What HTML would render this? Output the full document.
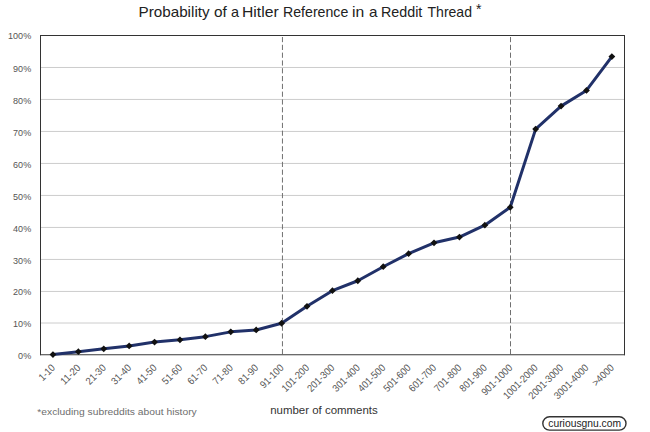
<!DOCTYPE html><html><head><meta charset="utf-8"><style>html,body{margin:0;padding:0;background:#fff;}svg{display:block;}text{font-family:"Liberation Sans",sans-serif;}</style></head><body>
<svg width="650" height="432" viewBox="0 0 650 432">
<rect x="0" y="0" width="650" height="432" fill="#fff"/>
<line x1="40.0" y1="323.00" x2="624.4" y2="323.00" stroke="#cccccc" stroke-width="1"/>
<line x1="40.0" y1="291.45" x2="624.4" y2="291.45" stroke="#cccccc" stroke-width="1"/>
<line x1="40.0" y1="259.45" x2="624.4" y2="259.45" stroke="#cccccc" stroke-width="1"/>
<line x1="40.0" y1="227.45" x2="624.4" y2="227.45" stroke="#cccccc" stroke-width="1"/>
<line x1="40.0" y1="195.45" x2="624.4" y2="195.45" stroke="#cccccc" stroke-width="1"/>
<line x1="40.0" y1="163.45" x2="624.4" y2="163.45" stroke="#cccccc" stroke-width="1"/>
<line x1="40.0" y1="131.45" x2="624.4" y2="131.45" stroke="#cccccc" stroke-width="1"/>
<line x1="40.0" y1="99.45" x2="624.4" y2="99.45" stroke="#cccccc" stroke-width="1"/>
<line x1="40.0" y1="67.47" x2="624.4" y2="67.47" stroke="#cccccc" stroke-width="1"/>
<line x1="282.45" y1="37.0" x2="282.45" y2="354.9" stroke="#707070" stroke-width="1" stroke-dasharray="5.2,2.6"/>
<line x1="510.50" y1="37.0" x2="510.50" y2="354.9" stroke="#707070" stroke-width="1" stroke-dasharray="5.2,2.6"/>
<line x1="40.5" y1="35.5" x2="624.5" y2="35.5" stroke="#333" stroke-width="1"/>
<line x1="40.5" y1="35" x2="40.5" y2="355.2" stroke="#333" stroke-width="1"/>
<line x1="624.5" y1="35" x2="624.5" y2="355.2" stroke="#333" stroke-width="1"/>
<line x1="40" y1="354.75" x2="625" y2="354.75" stroke="#3a3a3a" stroke-width="1.1"/>
<polyline points="52.94,354.53 78.35,351.66 103.75,348.78 129.16,345.91 154.56,342.08 179.97,339.84 205.38,336.65 230.78,331.86 256.19,329.94 281.59,323.24 307.00,306.32 332.41,290.67 357.81,280.77 383.22,266.72 408.62,253.63 434.03,242.78 459.44,237.03 484.84,225.21 510.25,207.33 535.65,129.10 561.06,106.12 586.47,90.47 611.87,56.62" fill="none" stroke="#213169" stroke-width="3" stroke-linejoin="round"/>
<path d="M52.94,351.13 L56.34,354.53 L52.94,357.93 L49.54,354.53 Z" fill="#111"/>
<path d="M78.35,348.26 L81.75,351.66 L78.35,355.06 L74.95,351.66 Z" fill="#111"/>
<path d="M103.75,345.38 L107.15,348.78 L103.75,352.18 L100.35,348.78 Z" fill="#111"/>
<path d="M129.16,342.51 L132.56,345.91 L129.16,349.31 L125.76,345.91 Z" fill="#111"/>
<path d="M154.56,338.68 L157.96,342.08 L154.56,345.48 L151.16,342.08 Z" fill="#111"/>
<path d="M179.97,336.44 L183.37,339.84 L179.97,343.24 L176.57,339.84 Z" fill="#111"/>
<path d="M205.38,333.25 L208.78,336.65 L205.38,340.05 L201.98,336.65 Z" fill="#111"/>
<path d="M230.78,328.46 L234.18,331.86 L230.78,335.26 L227.38,331.86 Z" fill="#111"/>
<path d="M256.19,326.54 L259.59,329.94 L256.19,333.34 L252.79,329.94 Z" fill="#111"/>
<path d="M281.59,319.84 L284.99,323.24 L281.59,326.64 L278.19,323.24 Z" fill="#111"/>
<path d="M307.00,302.92 L310.40,306.32 L307.00,309.72 L303.60,306.32 Z" fill="#111"/>
<path d="M332.41,287.27 L335.81,290.67 L332.41,294.07 L329.01,290.67 Z" fill="#111"/>
<path d="M357.81,277.37 L361.21,280.77 L357.81,284.17 L354.41,280.77 Z" fill="#111"/>
<path d="M383.22,263.32 L386.62,266.72 L383.22,270.12 L379.82,266.72 Z" fill="#111"/>
<path d="M408.62,250.23 L412.02,253.63 L408.62,257.03 L405.22,253.63 Z" fill="#111"/>
<path d="M434.03,239.38 L437.43,242.78 L434.03,246.18 L430.63,242.78 Z" fill="#111"/>
<path d="M459.44,233.63 L462.84,237.03 L459.44,240.43 L456.04,237.03 Z" fill="#111"/>
<path d="M484.84,221.81 L488.24,225.21 L484.84,228.61 L481.44,225.21 Z" fill="#111"/>
<path d="M510.25,203.93 L513.65,207.33 L510.25,210.73 L506.85,207.33 Z" fill="#111"/>
<path d="M535.65,125.70 L539.05,129.10 L535.65,132.50 L532.25,129.10 Z" fill="#111"/>
<path d="M561.06,102.72 L564.46,106.12 L561.06,109.52 L557.66,106.12 Z" fill="#111"/>
<path d="M586.47,87.07 L589.87,90.47 L586.47,93.87 L583.07,90.47 Z" fill="#111"/>
<path d="M611.87,53.22 L615.27,56.62 L611.87,60.02 L608.47,56.62 Z" fill="#111"/>
<text x="31.2" y="359.35" font-size="9.5" fill="#555" text-anchor="end" textLength="13.1" lengthAdjust="spacingAndGlyphs">0%</text>
<text x="31.2" y="327.42" font-size="9.5" fill="#555" text-anchor="end" textLength="18.1" lengthAdjust="spacingAndGlyphs">10%</text>
<text x="31.2" y="295.49" font-size="9.5" fill="#555" text-anchor="end" textLength="18.1" lengthAdjust="spacingAndGlyphs">20%</text>
<text x="31.2" y="263.56" font-size="9.5" fill="#555" text-anchor="end" textLength="18.1" lengthAdjust="spacingAndGlyphs">30%</text>
<text x="31.2" y="231.63" font-size="9.5" fill="#555" text-anchor="end" textLength="18.1" lengthAdjust="spacingAndGlyphs">40%</text>
<text x="31.2" y="199.70" font-size="9.5" fill="#555" text-anchor="end" textLength="18.1" lengthAdjust="spacingAndGlyphs">50%</text>
<text x="31.2" y="167.77" font-size="9.5" fill="#555" text-anchor="end" textLength="18.1" lengthAdjust="spacingAndGlyphs">60%</text>
<text x="31.2" y="135.84" font-size="9.5" fill="#555" text-anchor="end" textLength="18.1" lengthAdjust="spacingAndGlyphs">70%</text>
<text x="31.2" y="103.91" font-size="9.5" fill="#555" text-anchor="end" textLength="18.1" lengthAdjust="spacingAndGlyphs">80%</text>
<text x="31.2" y="71.98" font-size="9.5" fill="#555" text-anchor="end" textLength="18.1" lengthAdjust="spacingAndGlyphs">90%</text>
<text x="31.2" y="38.75" font-size="9.5" fill="#555" text-anchor="end" textLength="23.2" lengthAdjust="spacingAndGlyphs">100%</text>
<text transform="translate(55.74,368.4) rotate(-45)" font-size="10.2" fill="#555" text-anchor="end" textLength="18.53" lengthAdjust="spacingAndGlyphs">1-10</text>
<text transform="translate(81.15,368.4) rotate(-45)" font-size="10.2" fill="#555" text-anchor="end" textLength="23.68" lengthAdjust="spacingAndGlyphs">11-20</text>
<text transform="translate(106.55,368.4) rotate(-45)" font-size="10.2" fill="#555" text-anchor="end" textLength="23.68" lengthAdjust="spacingAndGlyphs">21-30</text>
<text transform="translate(131.96,368.4) rotate(-45)" font-size="10.2" fill="#555" text-anchor="end" textLength="23.68" lengthAdjust="spacingAndGlyphs">31-40</text>
<text transform="translate(157.36,368.4) rotate(-45)" font-size="10.2" fill="#555" text-anchor="end" textLength="23.68" lengthAdjust="spacingAndGlyphs">41-50</text>
<text transform="translate(182.77,368.4) rotate(-45)" font-size="10.2" fill="#555" text-anchor="end" textLength="23.68" lengthAdjust="spacingAndGlyphs">51-60</text>
<text transform="translate(208.18,368.4) rotate(-45)" font-size="10.2" fill="#555" text-anchor="end" textLength="23.68" lengthAdjust="spacingAndGlyphs">61-70</text>
<text transform="translate(233.58,368.4) rotate(-45)" font-size="10.2" fill="#555" text-anchor="end" textLength="23.68" lengthAdjust="spacingAndGlyphs">71-80</text>
<text transform="translate(258.99,368.4) rotate(-45)" font-size="10.2" fill="#555" text-anchor="end" textLength="23.68" lengthAdjust="spacingAndGlyphs">81-90</text>
<text transform="translate(284.39,368.4) rotate(-45)" font-size="10.2" fill="#555" text-anchor="end" textLength="28.82" lengthAdjust="spacingAndGlyphs">91-100</text>
<text transform="translate(309.80,368.4) rotate(-45)" font-size="10.2" fill="#555" text-anchor="end" textLength="33.97" lengthAdjust="spacingAndGlyphs">101-200</text>
<text transform="translate(335.21,368.4) rotate(-45)" font-size="10.2" fill="#555" text-anchor="end" textLength="33.97" lengthAdjust="spacingAndGlyphs">201-300</text>
<text transform="translate(360.61,368.4) rotate(-45)" font-size="10.2" fill="#555" text-anchor="end" textLength="33.97" lengthAdjust="spacingAndGlyphs">301-400</text>
<text transform="translate(386.02,368.4) rotate(-45)" font-size="10.2" fill="#555" text-anchor="end" textLength="33.97" lengthAdjust="spacingAndGlyphs">401-500</text>
<text transform="translate(411.42,368.4) rotate(-45)" font-size="10.2" fill="#555" text-anchor="end" textLength="33.97" lengthAdjust="spacingAndGlyphs">501-600</text>
<text transform="translate(436.83,368.4) rotate(-45)" font-size="10.2" fill="#555" text-anchor="end" textLength="33.97" lengthAdjust="spacingAndGlyphs">601-700</text>
<text transform="translate(462.24,368.4) rotate(-45)" font-size="10.2" fill="#555" text-anchor="end" textLength="33.97" lengthAdjust="spacingAndGlyphs">701-800</text>
<text transform="translate(487.64,368.4) rotate(-45)" font-size="10.2" fill="#555" text-anchor="end" textLength="33.97" lengthAdjust="spacingAndGlyphs">801-900</text>
<text transform="translate(513.05,368.4) rotate(-45)" font-size="10.2" fill="#555" text-anchor="end" textLength="39.12" lengthAdjust="spacingAndGlyphs">901-1000</text>
<text transform="translate(538.45,368.4) rotate(-45)" font-size="10.2" fill="#555" text-anchor="end" textLength="44.27" lengthAdjust="spacingAndGlyphs">1001-2000</text>
<text transform="translate(563.86,368.4) rotate(-45)" font-size="10.2" fill="#555" text-anchor="end" textLength="44.27" lengthAdjust="spacingAndGlyphs">2001-3000</text>
<text transform="translate(589.27,368.4) rotate(-45)" font-size="10.2" fill="#555" text-anchor="end" textLength="44.27" lengthAdjust="spacingAndGlyphs">3001-4000</text>
<text transform="translate(614.67,368.4) rotate(-45)" font-size="10.2" fill="#555" text-anchor="end" textLength="26.00" lengthAdjust="spacingAndGlyphs">&gt;4000</text>
<text x="138.5" y="17" font-size="14.5" fill="#222" textLength="71.13" lengthAdjust="spacingAndGlyphs">Probability</text>
<text x="214.0" y="17" font-size="14.5" fill="#222" textLength="12.83" lengthAdjust="spacingAndGlyphs">of</text>
<text x="231.0" y="17" font-size="14.5" fill="#222" textLength="8.03" lengthAdjust="spacingAndGlyphs">a</text>
<text x="242.0" y="17" font-size="14.5" fill="#222" textLength="36.63" lengthAdjust="spacingAndGlyphs">Hitler</text>
<text x="283.0" y="17" font-size="14.5" fill="#222" textLength="65.3" lengthAdjust="spacingAndGlyphs">Reference</text>
<text x="352.0" y="17" font-size="14.5" fill="#222" textLength="12.23" lengthAdjust="spacingAndGlyphs">in</text>
<text x="369.0" y="17" font-size="14.5" fill="#222" textLength="8.5" lengthAdjust="spacingAndGlyphs">a</text>
<text x="381.0" y="17" font-size="14.5" fill="#222" textLength="41.3" lengthAdjust="spacingAndGlyphs">Reddit</text>
<text x="427.5" y="17" font-size="14.5" fill="#222" textLength="44.5" lengthAdjust="spacingAndGlyphs">Thread</text>
<text x="476" y="14.1" font-size="14" fill="#222">*</text>
<text x="37.3" y="414.5" font-size="9.9" fill="#6e6e6e" textLength="159.4" lengthAdjust="spacingAndGlyphs">*excluding subreddits about history</text>
<text x="270.2" y="414.2" font-size="10.6" fill="#333" textLength="107.6" lengthAdjust="spacingAndGlyphs">number of comments</text>
<rect x="542.8" y="416.8" width="83.2" height="13.3" rx="6.75" ry="6.75" fill="none" stroke="#333" stroke-width="1.4"/>
<text x="548.3" y="426.5" font-size="10.6" fill="#222" textLength="72.8" lengthAdjust="spacingAndGlyphs">curiousgnu.com</text>
</svg></body></html>
